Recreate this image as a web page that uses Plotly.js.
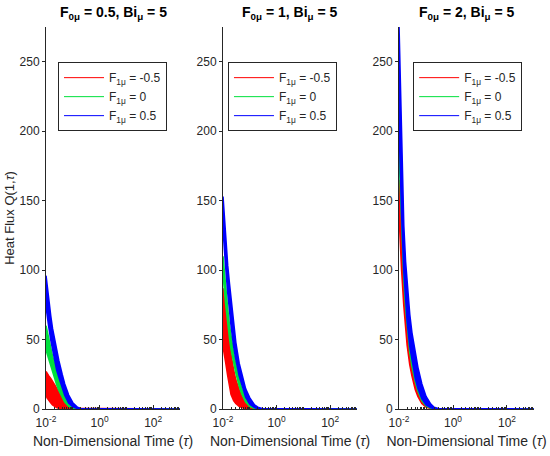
<!DOCTYPE html>
<html>
<head>
<meta charset="utf-8">
<script src="https://cdn.plot.ly/plotly-3.0.1.min.js"></script>
<style>html,body{margin:0;padding:0;background:#fff;}#chart{width:550px;height:456px;}</style>
</head>
<body>
<div id="chart"></div>
<script>
// Non-dimensional time grid (tau)
const tau = [0.01, 0.011, 0.0125, 0.015, 0.0175, 0.02, 0.025, 0.03, 0.04, 0.05, 0.07, 0.1, 0.15, 0.2, 0.3, 0.5, 1, 10, 100, 1000];

// Panel 1: F0mu = 0.5 — upper/lower envelopes of each band
const p1_red_hi   = [27, 25.5, 24, 22, 20, 18.5, 15.5, 12.5, 8, 5, 2.2, 0.7, 0.1, 0, 0, 0, 0, 0, 0, 0];
const p1_red_lo   = [10, 8, 6.5, 4.5, 3, 2, 1, 0.5, 0.2, 0, 0, 0, 0, 0, 0, 0, 0, 0, 0, 0];
const p1_green_hi = [60, 56, 50, 44, 38, 34, 27, 22, 15, 10.5, 5, 1.8, 0.4, 0.1, 0, 0, 0, 0, 0, 0];
const p1_green_lo = [42, 40, 36, 31, 27.5, 24, 17.5, 13.5, 8.5, 5, 2, 0.6, 0.1, 0, 0, 0, 0, 0, 0, 0];
const p1_blue_hi  = [96, 88, 78, 67, 58, 52, 42, 35, 25, 18, 10, 4.5, 1.2, 0.3, 0, 0, 0, 0, 0, 0];
const p1_blue_lo  = [74, 68, 60, 50, 43, 37, 28, 23, 15, 10, 4.3, 1.5, 0.3, 0, 0, 0, 0, 0, 0, 0];

// Panel 2: F0mu = 1
const p2_red_hi   = [87, 80, 70, 59, 48, 39, 28, 21, 14, 9, 4, 1.4, 0.3, 0, 0, 0, 0, 0, 0, 0];
const p2_red_lo   = [45, 40, 34, 24, 16, 10.5, 6, 4, 2, 1, 0.3, 0, 0, 0, 0, 0, 0, 0, 0, 0];
const p2_green_hi = [110, 100, 88, 72, 60, 52, 40, 32, 21, 14.5, 7, 2.8, 0.8, 0.2, 0, 0, 0, 0, 0, 0];
const p2_green_lo = [98, 88, 76, 61, 51, 43, 33, 26, 16.5, 11, 5, 1.8, 0.4, 0.1, 0, 0, 0, 0, 0, 0];
const p2_blue_hi  = [153, 140, 122, 103, 90, 80, 60, 48, 33, 25, 14.5, 8, 3, 1.3, 0.2, 0, 0, 0, 0, 0];
const p2_blue_lo  = [130, 120, 103, 84, 70, 60, 45, 36, 24, 17, 8.5, 3.5, 1, 0.3, 0, 0, 0, 0, 0, 0];

// Panel 3: F0mu = 2
const p3_red_hi   = [165, 145, 118, 88, 70, 57, 41, 32, 20, 14, 6.5, 2.6, 0.7, 0.2, 0, 0, 0, 0, 0, 0];
const p3_red_lo   = [140, 123, 100, 75, 58, 46, 32, 24, 14, 9, 4, 1.4, 0.3, 0.05, 0, 0, 0, 0, 0, 0];
const p3_green_hi = [215, 190, 152, 112, 88, 72, 52, 41, 27, 19, 9.5, 4, 1.2, 0.3, 0, 0, 0, 0, 0, 0];
const p3_green_lo = [188, 162, 130, 94, 73, 58, 41, 31, 19.5, 13, 6, 2.3, 0.6, 0.1, 0, 0, 0, 0, 0, 0];
const p3_blue_hi  = [275, 235, 182, 132, 106, 90, 68, 55, 40, 30, 18, 9, 3.5, 1.2, 0.2, 0, 0, 0, 0, 0];
const p3_blue_lo  = [205, 175, 140, 100, 78, 63, 45, 35, 22, 15, 7.5, 3, 0.9, 0.3, 0, 0, 0, 0, 0, 0];

const panelTitles = ['F<sub>0μ</sub> = 0.5, Bi<sub>μ</sub> = 5', 'F<sub>0μ</sub> = 1, Bi<sub>μ</sub> = 5', 'F<sub>0μ</sub> = 2, Bi<sub>μ</sub> = 5'];
const seriesNames = ['F<sub>1μ</sub> = -0.5', 'F<sub>1μ</sub> = 0', 'F<sub>1μ</sub> = 0.5'];
const seriesColors = ['#ff0000', '#00e03c', '#0000ff'];
const xTickVals = [0.01, 1, 100];
const xTickText = ['10<sup>-2</sup>', '10<sup>0</sup>', '10<sup>2</sup>'];
const yTickVals = [0, 50, 100, 150, 200, 250];

const panels = [
  [[p1_red_hi, p1_red_lo], [p1_green_hi, p1_green_lo], [p1_blue_hi, p1_blue_lo]],
  [[p2_red_hi, p2_red_lo], [p2_green_hi, p2_green_lo], [p2_blue_hi, p2_blue_lo]],
  [[p3_red_hi, p3_red_lo], [p3_green_hi, p3_green_lo], [p3_blue_hi, p3_blue_lo]]
];

const traces = [];
const revTau = tau.slice().reverse();
panels.forEach((bands, pi) => {
  const ax = pi === 0 ? '' : String(pi + 1);
  bands.forEach((b, si) => {
    traces.push({
      x: tau.concat(revTau),
      y: b[0].concat(b[1].slice().reverse()),
      xaxis: 'x' + ax, yaxis: 'y' + ax,
      mode: 'lines', fill: 'toself',
      fillcolor: seriesColors[si],
      line: {color: seriesColors[si], width: 1.6},
      showlegend: false, hoverinfo: 'skip'
    });
  });
  seriesNames.forEach((nm, si) => {
    traces.push({
      x: [null], y: [null],
      xaxis: 'x' + ax, yaxis: 'y' + ax,
      mode: 'lines', name: nm,
      line: {color: seriesColors[si], width: 1},
      legend: 'legend' + ax, showlegend: true
    });
  });
});

const font = {family: 'Liberation Sans, Arial, sans-serif', color: '#262626', size: 12};
const domains = [[0, 0.2746], [0.3627, 0.6373], [0.7234, 1]];

const layout = {
  width: 550, height: 456,
  margin: {l: 46, r: 16, t: 27, b: 47},
  paper_bgcolor: '#fff', plot_bgcolor: '#fff',
  font: font,
  annotations: [],
  showlegend: true
};

domains.forEach((d, i) => {
  const ax = i === 0 ? '' : String(i + 1);
  layout['xaxis' + ax] = {
    domain: d, type: 'log', range: [-2, 3],
    tickvals: xTickVals, ticktext: xTickText,
    ticks: 'inside', ticklen: 4, tickcolor: '#262626',
    minor: {ticks: 'inside', ticklen: 2, tickcolor: '#262626', dtick: 'D1'},
    showline: true, linecolor: '#262626', linewidth: 1,
    showgrid: false, zeroline: false, mirror: false,
    tickfont: {size: 12, color: '#262626'},
    ticklabelstandoff: 3,
    anchor: 'y' + ax,
    title: {text: 'Non-Dimensional Time (<i>τ</i>)', font: {size: 14, color: '#262626'}, standoff: 6},
    automargin: false
  };
  layout['yaxis' + ax] = {
    domain: [0, 1], range: [0, 275],
    tickvals: yTickVals,
    ticks: 'outside', ticklen: 3, tickcolor: '#262626',
    showline: true, linecolor: '#262626', linewidth: 1,
    showgrid: false, zeroline: false,
    tickfont: {size: 12, color: '#262626'},
    anchor: 'x' + ax,
    automargin: false,
    title: i === 0 ? {text: 'Heat Flux Q(1,<i>τ</i>)', font: {size: 13, color: '#262626'}, standoff: 2} : {text: ''}
  };
  layout['legend' + ax] = {
    x: d[0] + (i === 0 ? 0.0246 : (i === 1 ? 0.0102 : 0.029)),
    y: 0.908, xanchor: 'left', yanchor: 'top',
    xref: 'paper', yref: 'paper',
    bgcolor: '#fff', bordercolor: '#262626', borderwidth: 1,
    font: {size: 12, color: '#262626'},
    itemwidth: 40
  };
  layout.annotations.push({
    text: '<b>' + panelTitles[i] + '</b>',
    x: (d[0] + d[1]) / 2, y: 1, xref: 'paper', yref: 'paper',
    xanchor: 'center', yanchor: 'bottom', yshift: 3,
    showarrow: false, font: {size: 14, color: '#000'}
  });
});

Plotly.newPlot('chart', traces, layout, {displayModeBar: false, staticPlot: true});
</script>
</body>
</html>
